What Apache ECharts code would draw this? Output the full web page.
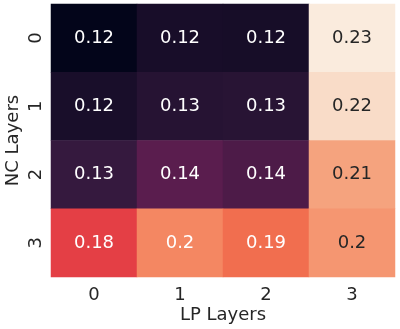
<!DOCTYPE html>
<html><head><meta charset="utf-8">
<script src="https://cdn.jsdelivr.net/npm/echarts@6/dist/echarts.min.js"></script>
<style>html,body{margin:0;padding:0;background:#fff}#c{width:400px;height:329px}</style>
</head><body><div id="c"></div>
<script>
const xCategories = ['0', '1', '2', '3'];
const yCategories = ['0', '1', '2', '3'];
const xName = 'LP Layers';
const yName = 'NC Layers';
// rows = NC Layers (0..3), columns = LP Layers (0..3)
const row0 = [0.1170, 0.1236, 0.1233, 0.2270];
const row1 = [0.1238, 0.1280, 0.1285, 0.2227];
const row2 = [0.1327, 0.1426, 0.1390, 0.2069];
const row3 = [0.1827, 0.1998, 0.1937, 0.2037];
const rows = [row0, row1, row2, row3];

const rocket = ['#03051a', '#35193e', '#701f57', '#ad1759', '#e13342', '#f37651', '#f6b48f', '#faebdd'];
const all = rows.flat();
const vmin = Math.min(...all), vmax = Math.max(...all);

function fmt(v) { return String(parseFloat(v.toPrecision(2))); }

const data = [];
rows.forEach((r, yi) => r.forEach((v, xi) => {
  const t = (v - vmin) / (vmax - vmin);
  data.push({ value: [xi, yi, v], label: { color: t > 0.77 ? '#262626' : '#ffffff' } });
}));

const font = 'DejaVu Sans';
const chart = echarts.init(document.getElementById('c'), null, { renderer: 'canvas' });
chart.setOption({
  backgroundColor: '#ffffff',
  animation: false,
  grid: { left: 51, right: 5, top: 4, bottom: 52, containLabel: false, outerBoundsMode: 'none' },
  xAxis: {
    type: 'category', data: xCategories, name: xName, nameLocation: 'middle', nameGap: 29, nameMoveOverlap: false,
    nameTextStyle: { fontFamily: font, fontSize: 18, color: '#262626' },
    axisLine: { show: false }, axisTick: { show: false }, splitLine: { show: false },
    axisLabel: { fontFamily: font, fontSize: 18, color: '#262626', margin: 9 }
  },
  yAxis: {
    type: 'category', data: yCategories, inverse: true, name: yName, nameLocation: 'middle', nameGap: 29, nameMoveOverlap: false,
    nameTextStyle: { fontFamily: font, fontSize: 18, color: '#262626' },
    axisLine: { show: false }, axisTick: { show: false }, splitLine: { show: false },
    axisLabel: { fontFamily: font, fontSize: 18, color: '#262626', rotate: 90, margin: 6 }
  },
  visualMap: {
    show: false, type: 'continuous', min: vmin, max: vmax, dimension: 2,
    inRange: { color: rocket }
  },
  series: [{
    type: 'heatmap', data: data,
    label: { show: true, fontFamily: font, fontSize: 18, formatter: p => fmt(p.value[2]) },
    itemStyle: { borderWidth: 0 },
    emphasis: { disabled: true }
  }]
});
</script></body></html>
